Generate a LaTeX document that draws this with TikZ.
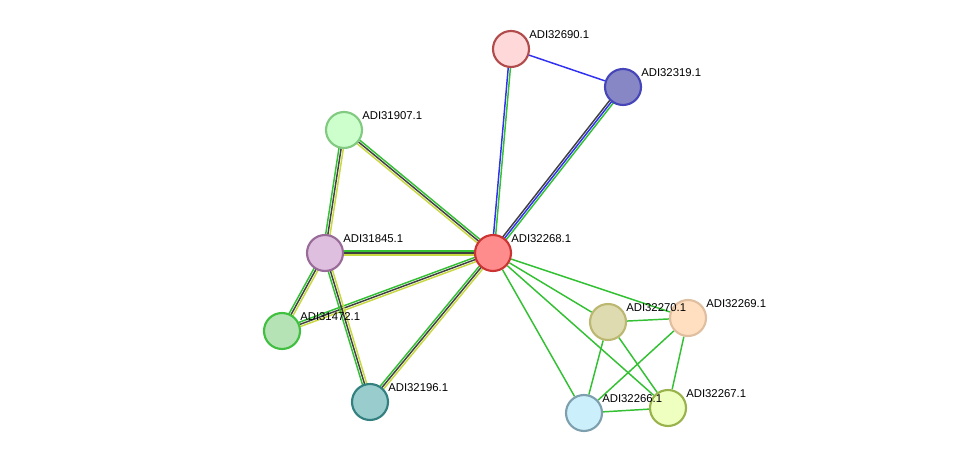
\documentclass[tikz,border=0pt]{standalone}
\usepackage{fontspec}
\setmainfont{Liberation Sans}
\usetikzlibrary{calc,backgrounds}
\tikzset{
  prot/.style 2 args={circle,minimum size=36*0.75pt,inner sep=0pt,line width=1.6pt,fill=#1,draw=#2},
  lbl/.style={anchor=south west,font=\fontsize{8.5}{9}\selectfont,inner sep=0pt},
  ln/.style={line width=1.1pt}
}
\definecolor{cgreen}{HTML}{33C033}
\definecolor{cdark}{HTML}{404040}
\definecolor{cyel}{HTML}{C8D840}
\definecolor{cblue}{HTML}{3030F0}
% one coloured strand between two nodes, shifted sideways
\newcommand{\strand}[4]{\draw[ln,#4] ($(#1.center)!#3!90:(#2.center)$) -- ($(#2.center)!#3!-90:(#1.center)$);}
\newcommand{\tri}[2]{\strand{#1}{#2}{-2.2*0.75pt}{cgreen}\strand{#1}{#2}{0pt}{cdark}\strand{#1}{#2}{2.2*0.75pt}{cyel}}
\begin{document}
\begin{tikzpicture}[x=0.75pt,y=-0.75pt]
\useasboundingbox (0,0) rectangle (975,459);
\node[prot={pink!60!white}{red!40!gray}] (p32690) at (511,49) {};
\node[prot={blue!35!gray!70!white}{blue!45!gray}] (p32319) at (623,87) {};
\node[prot={green!20!white}{green!40!gray!70!white}] (p31907) at (344,130) {};
\node[prot={violet!25!white}{violet!45!gray!80!white}] (p31845) at (325,253) {};
\node[prot={red!45!white}{red!60!gray}] (p32268) at (493,253) {};
\node[prot={green!45!gray!40!white}{green!50!gray}] (p31472) at (282,331) {};
\node[prot={teal!40!white}{teal!60!gray}] (p32196) at (370,402) {};
\node[prot={yellow!40!gray!50!white}{yellow!40!gray}] (p32270) at (608,322) {};
\node[prot={orange!25!white}{brown!50!white}] (p32269) at (688,318) {};
\node[prot={cyan!20!white}{cyan!30!gray}] (p32266) at (584,413) {};
\node[prot={lime!25!white}{lime!40!gray}] (p32267) at (668,408) {};
\foreach \n/\t in {p32690/ADI32690.1,p32319/ADI32319.1,p31907/ADI31907.1,p31845/ADI31845.1,
  p32268/ADI32268.1,p31472/ADI31472.1,p32196/ADI32196.1,p32270/ADI32270.1,p32269/ADI32269.1,
  p32266/ADI32266.1,p32267/ADI32267.1}
  \node[lbl] at ($(\n.center)+(18,-10)$) {\t};
\begin{pgfonlayer}{background}
\tri{p32268}{p31907}
\tri{p32268}{p31845}
\tri{p32268}{p31472}
\tri{p32268}{p32196}
\tri{p31907}{p31845}
\tri{p31845}{p31472}
\tri{p31845}{p32196}
\strand{p32268}{p32690}{-1.1*0.75pt}{cgreen}\strand{p32268}{p32690}{1.1*0.75pt}{cblue}
\strand{p32268}{p32319}{-2.2*0.75pt}{cgreen}\strand{p32268}{p32319}{0pt}{cblue}\strand{p32268}{p32319}{2.2*0.75pt}{cdark}
\draw[ln,cblue] (p32690) -- (p32319);
\foreach \a/\b in {p32268/p32270,p32268/p32269,p32268/p32266,p32268/p32267,p32270/p32269,
  p32270/p32266,p32270/p32267,p32269/p32266,p32269/p32267,p32266/p32267}
  \draw[ln,cgreen] (\a) -- (\b);
\end{pgfonlayer}
\end{tikzpicture}
\end{document}
